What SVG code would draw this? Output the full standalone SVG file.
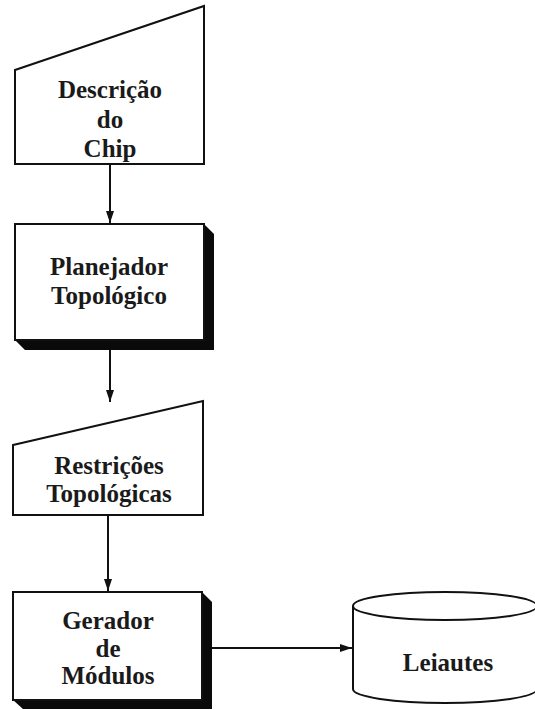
<svg xmlns="http://www.w3.org/2000/svg" width="535" height="710" viewBox="0 0 535 710">
  <style>
    .shape { fill: #ffffff; stroke: #111111; stroke-width: 2; stroke-linejoin: miter; }
    .shadow { fill: #0a0a0a; }
    .label { font-family: "Liberation Serif", "Times New Roman", serif; font-weight: bold; font-size: 25px; fill: #1a1a1a; text-anchor: middle; }
    .edge { fill: none; stroke: #111111; stroke-width: 2; }
  </style>
  <defs>
    <marker id="arrow" viewBox="0 0 12 8" refX="12" refY="4" markerWidth="12" markerHeight="8" markerUnits="userSpaceOnUse" orient="auto">
      <path d="M0,0 L12,4 L0,8 Z" fill="#111111"/>
    </marker>
  </defs>
  <rect width="535" height="710" fill="#ffffff"/>

  <!-- manual input: chip description -->
  <g id="descricao">
    <polygon class="shape" points="15,70 204,6 204,164 15,164"/>
    <text class="label" x="110" y="98">Descrição</text>
    <text class="label" x="110" y="128">do</text>
    <text class="label" x="110" y="157">Chip</text>
  </g>

  <!-- process: topological planner -->
  <g id="planejador">
    <polygon class="shadow" points="204,224 214,234 214,350 25,350 15,340 204,340"/>
    <rect class="shape" x="15" y="224" width="189" height="116"/>
    <text class="label" x="109" y="275">Planejador</text>
    <text class="label" x="109" y="304">Topológico</text>
  </g>

  <!-- manual input: topological constraints -->
  <g id="restricoes">
    <polygon class="shape" points="13,445 203,401 203,515 13,515"/>
    <text class="label" x="109" y="474">Restrições</text>
    <text class="label" x="109" y="502">Topológicas</text>
  </g>

  <!-- process: module generator -->
  <g id="gerador">
    <polygon class="shadow" points="202,592 212,602 212,709 23,709 13,700 202,700"/>
    <rect class="shape" x="13" y="592" width="189" height="108"/>
    <text class="label" x="108" y="629">Gerador</text>
    <text class="label" x="108" y="657">de</text>
    <text class="label" x="108" y="684">Módulos</text>
  </g>

  <!-- storage: layouts -->
  <g id="leiautes">
    <path class="shape" d="M353,606 L353,689 A92,14 0 0 0 537,689 L537,606"/>
    <ellipse class="shape" cx="445" cy="606" rx="92" ry="14"/>
    <text class="label" x="448" y="671">Leiautes</text>
  </g>

  <g id="connectors">
    <line class="edge" x1="110" y1="164" x2="110" y2="223" marker-end="url(#arrow)"/>
    <line class="edge" x1="110" y1="350" x2="110" y2="402" marker-end="url(#arrow)"/>
    <line class="edge" x1="108" y1="515" x2="108" y2="591" marker-end="url(#arrow)"/>
    <line class="edge" x1="212" y1="648" x2="352" y2="648" marker-end="url(#arrow)"/>
  </g>
</svg>
